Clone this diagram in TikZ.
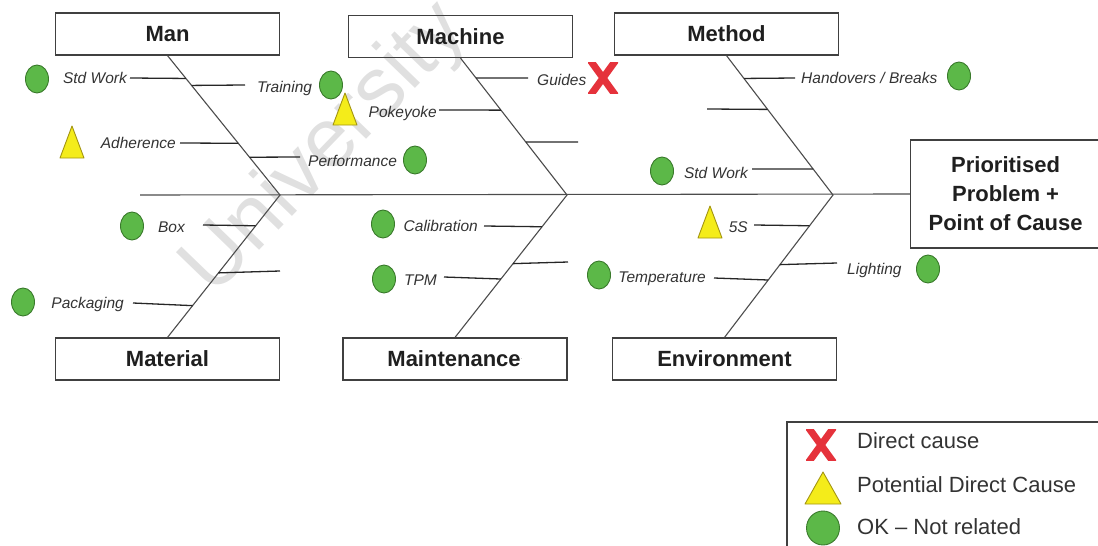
\documentclass[tikz,border=0pt]{standalone}
\usepackage{fontspec}
\setmainfont{Liberation Sans}
\usetikzlibrary{shapes.geometric,calc}
\definecolor{okgreen}{HTML}{5CB848}
\definecolor{okedge}{HTML}{3A7A2C}
\definecolor{warnyel}{HTML}{F4EC1A}
\definecolor{warnedge}{HTML}{A39512}
\definecolor{xred}{HTML}{E5323B}
\definecolor{ink}{HTML}{333333}
\newcommand\warntri[4]{\filldraw[fill=warnyel,draw=warnedge,line width=0.9pt,line join=round]
  (#1-#3/2,#2+#4/2) -- (#1,#2-#4/2) -- (#1+#3/2,#2+#4/2) -- cycle;}
\newcommand\redx[2]{\begin{scope}
  \clip (#1-15,#2-15.5) rectangle (#1+15,#2+15.5);
  \draw[xred,line width=7pt] (#1-13,#2-18) -- (#1+13,#2+18) (#1+13,#2-18) -- (#1-13,#2+18);
  \end{scope}}
\tikzset{
  catbox/.style={draw=black!75,line width=1.2pt,minimum width=224,minimum height=42,
    font=\fontsize{22}{24}\selectfont\bfseries,text=black!88,inner sep=0},
  bone/.style={draw=black!70,line width=1.1pt},
  twig/.style={draw=black!85,line width=1.3pt},
  lbl/.style={font=\fontsize{15.5}{18}\selectfont\itshape,text=ink,inner sep=0},
  okc/.style={ellipse,draw=okedge,line width=0.9pt,fill=okgreen,minimum width=23,minimum height=28,inner sep=0},
  legtxt/.style={font=\fontsize{22}{24}\selectfont,text=ink,inner sep=0,anchor=west}
}
\begin{document}
\begin{tikzpicture}[x=1pt,y=-1pt]
\useasboundingbox (0,0) rectangle (1098,546);
\clip (0,0) rectangle (1098,546);
% watermark
\node[font=\fontsize{84}{84}\selectfont,text=black!12,rotate=46] (wm) at (326,150) {University};

% category boxes
\node[catbox] (man) at (167.5,34) {Man};
\node[catbox] (machine) at (460.5,36.5) {Machine};
\node[catbox] (method) at (726.5,34) {Method};
\node[catbox] (material) at (167.5,359) {Material};
\node[catbox] (maint) at (455,359) {Maintenance\textsuperscript{\normalfont\tiny .}};
\node[catbox] (env) at (724.5,359) {Environment};
\node[catbox,anchor=west,minimum width=190,minimum height=108,align=center,
      font=\fontsize{22}{29}\selectfont\bfseries] (prob) at (910,194)
      {Prioritised\\Problem +\\Point of Cause};

% spine and bones
\coordinate (tail) at (140,195);
\coordinate (jA) at (280,195);
\coordinate (jB) at (567,195);
\coordinate (jC) at (833,195);
\draw[bone] (tail) -- (prob.west);
\draw[bone] (man.south) -- (jA) -- (material.north);
\draw[bone] (machine.south) -- (jB) -- (maint.north);
\draw[bone] (method.south) -- (jC) -- (env.north);

% ---- Man
\coordinate (a1) at (130,78);  \draw[twig] (a1) -- ($(man.south)!0.164!(jA)$);
\node[lbl,anchor=east] (l1) at (127,78) {Std Work};
\node[okc] (s1) at (37,79) {};
\coordinate (a2) at (245,85);  \draw[twig] ($(man.south)!0.214!(jA)$) -- (a2);
\node[lbl,anchor=west] (l2) at (257,88) {Training};
\node[okc] (s2) at (331,85) {};
\coordinate (a3) at (180,143); \draw[twig] (a3) -- ($(man.south)!0.629!(jA)$);
\node[lbl,anchor=east] (l3) at (176,143) {Adherence};
\warntri{72}{142}{24}{32}
\coordinate (a4) at (300,157); \draw[twig] ($(man.south)!0.729!(jA)$) -- (a4);
\node[lbl,anchor=west] (l4) at (308,161) {Performance};
\node[okc] (s4) at (415,160) {};

% ---- Material
\coordinate (a5) at (203,225); \draw[twig] (a5) -- ($(jA)!0.216!(material.north)$);
\node[lbl,anchor=east] (l5) at (185,227) {Box};
\node[okc] (s5) at (132,226) {};
\coordinate (a6) at (280,271); \draw[twig] ($(jA)!0.547!(material.north)$) -- (a6);
\coordinate (a7) at (133,303); \draw[twig] (a7) -- ($(jA)!0.777!(material.north)$);
\node[lbl,anchor=east] (l7) at (124,304) {Packaging};
\node[okc] (s7) at (23,302) {};

% ---- Machine
\coordinate (b1) at (528,78);  \draw[twig] ($(machine.south)!0.146!(jB)$) -- (b1);
\node[lbl,anchor=west] (m1) at (537,80) {Guides};
\redx{603}{78}
\coordinate (b2) at (439,110); \draw[twig] (b2) -- ($(machine.south)!0.380!(jB)$);
\node[lbl,anchor=east] (m2) at (437,113) {Pokeyoke};
\warntri{345}{109}{24}{32}
\coordinate (b3) at (578,142); \draw[twig] ($(machine.south)!0.613!(jB)$) -- (b3);

% ---- Maintenance
\coordinate (b4) at (484,226); \draw[twig] (b4) -- ($(jB)!0.223!(maint.north)$);
\node[lbl,anchor=east] (m4) at (478,226) {Calibration};
\node[okc] (t4) at (383,224) {};
\coordinate (b5) at (568,262); \draw[twig] ($(jB)!0.482!(maint.north)$) -- (b5);
\coordinate (b6) at (444,277); \draw[twig] (b6) -- ($(jB)!0.590!(maint.north)$);
\node[lbl,anchor=east] (m6) at (437,280) {TPM};
\node[okc] (t6) at (384,279) {};

% ---- Method
\coordinate (c1) at (795,78);  \draw[twig] ($(method.south)!0.164!(jC)$) -- (c1);
\node[lbl,anchor=west] (n1) at (801,78) {Handovers / Breaks};
\node[okc] (u1) at (959,76) {};
\coordinate (c2) at (707,109); \draw[twig] (c2) -- ($(method.south)!0.386!(jC)$);
\coordinate (c3) at (752,169); \draw[twig] (c3) -- ($(method.south)!0.814!(jC)$);
\node[lbl,anchor=east] (n3) at (748,173) {Std Work};
\node[okc] (u3) at (662,171) {};

% ---- Environment
\coordinate (c4) at (754,225); \draw[twig] (c4) -- ($(jC)!0.216!(env.north)$);
\node[lbl,anchor=east] (n4) at (748,227) {5S};
\warntri{710}{222}{24}{32}
\coordinate (c5) at (837,263); \draw[twig] ($(jC)!0.489!(env.north)$) -- (c5);
\node[lbl,anchor=west] (n5) at (847,270) {Lighting};
\node[okc] (u5) at (928,269) {};
\coordinate (c6) at (714,278); \draw[twig] (c6) -- ($(jC)!0.597!(env.north)$);
\node[lbl,anchor=east] (n6) at (706,279) {Temperature};
\node[okc] (u6) at (599,275) {};

% ---- Legend
\coordinate (lg1) at (787,422);
\draw[black!75,line width=1.2pt] (1100,422) -- (lg1) -- (787,550);
\redx{821}{445}
\node[legtxt] (lt1) at (857,441) {Direct cause};
\warntri{823}{488}{36}{32}
\node[legtxt] (lt2) at (857,485) {Potential Direct Cause};
\node[okc,minimum width=33,minimum height=34] (lc) at (823,528) {};
\node[legtxt] (lt3) at (857,527) {OK – Not related};
\end{tikzpicture}
\end{document}
